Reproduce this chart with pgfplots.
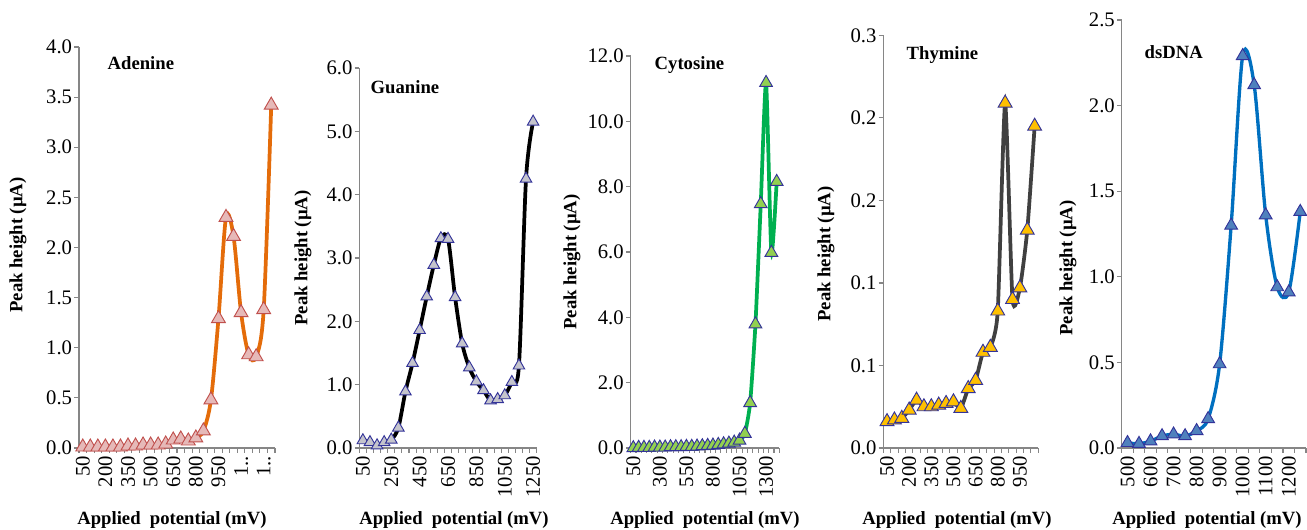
\documentclass[border=0pt]{standalone}
\usepackage{fontspec}
\setmainfont{Liberation Serif}
\usepackage{pgfplots}
\pgfplotsset{compat=1.18}

\definecolor{axgray}{HTML}{868686}
\definecolor{edgeblue}{HTML}{333399}
\definecolor{adline}{HTML}{E46C0A}
\definecolor{adfill}{HTML}{E6B9B8}
\definecolor{adedge}{HTML}{C0504D}
\definecolor{gufill}{HTML}{C4C4CC}
\definecolor{cyline}{HTML}{00B050}
\definecolor{cyfill}{HTML}{92D050}
\definecolor{thline}{HTML}{404040}
\definecolor{thfill}{HTML}{FFC000}
\definecolor{dsline}{HTML}{0070C0}
\definecolor{dsfill}{HTML}{4F81BD}

\newcommand{\ticksize}{\fontsize{15.5}{16}\selectfont}
\newcommand{\labsize}{\fontsize{14}{16}\selectfont\bfseries}

\pgfplotsset{
  panel/.style={
    scale only axis, anchor=south west,
    ymin=0,
    axis x line*=bottom, axis y line*=left,
    axis line style={draw=axgray, line width=1pt, -},
    tick align=outside, major tick length=3.5pt,
    tick style={draw=axgray, line width=0.8pt},
    xticklabels={},
    extra x tick style={major tick length=0pt},
    xticklabel style={rotate=90, anchor=east, font=\ticksize, inner xsep=6pt, inner ysep=0pt},
    yticklabel style={font=\ticksize, inner sep=1.5pt},
    clip=false,
  },
  curve/.style={smooth, line width=2.8pt, mark=triangle*,
    every mark/.append style={yshift=-1.4pt}},
}

\begin{document}
\begin{tikzpicture}
\useasboundingbox (0,0) rectangle (980.25pt,397.5pt);

% Adenine
\begin{axis}[panel, at={(59.25pt,61.5pt)}, width=147pt, height=300.75pt,
  xmin=25, xmax=1325, ymax=4,
  xtick={25,75,...,1325},
  extra x ticks={50,200,350,500,650,800,950,1100,1250},
  extra x tick labels={50,200,350,500,650,800,950,1..,1..},
  ytick={0,0.5,...,4}, yticklabels={0.0,0.5,1.0,1.5,2.0,2.5,3.0,3.5,4.0}]
\addplot[curve, color=adline, mark size=6pt,
  mark options={fill=adfill, draw=adedge, line width=0.7pt}] coordinates {
  (50,0.01) (100,0.01) (150,0.01) (200,0.01) (250,0.01) (300,0.01)
  (350,0.02) (400,0.02) (450,0.03) (500,0.03) (550,0.03) (600,0.04)
  (650,0.08) (700,0.09) (750,0.07) (800,0.10) (850,0.17) (900,0.48)
  (950,1.29) (1000,2.30) (1050,2.11) (1100,1.35) (1150,0.93) (1200,0.91)
  (1250,1.38) (1300,3.42)};
\end{axis}

% Guanine
\begin{axis}[panel, at={(269.5pt,61.5pt)}, width=133pt, height=285pt,
  xmin=25, xmax=1275, ymax=6,
  xtick={25,75,...,1275},
  extra x ticks={50,250,450,650,850,1050,1250},
  extra x tick labels={50,250,450,650,850,1050,1250},
  ytick={0,1,...,6}, yticklabels={0.0,1.0,2.0,3.0,4.0,5.0,6.0}]
\addplot[curve, color=black, mark size=5pt,
  mark options={fill=gufill, draw=edgeblue, line width=0.7pt}] coordinates {
  (50,0.12) (100,0.09) (150,0.04) (200,0.09) (250,0.13) (300,0.32)
  (350,0.89) (400,1.34) (450,1.86) (500,2.39) (550,2.89) (600,3.31)
  (650,3.30) (700,2.38) (750,1.65) (800,1.27) (850,1.05) (900,0.91)
  (950,0.75) (1000,0.77) (1050,0.83) (1100,1.04) (1150,1.30) (1200,4.25)
  (1250,5.15)};
\end{axis}

% Cytosine
\begin{axis}[panel, at={(473pt,61.5pt)}, width=111.5pt, height=294pt,
  xmin=25, xmax=1425, ymax=12,
  xtick={25,75,...,1425},
  extra x ticks={50,300,550,800,1050,1300},
  extra x tick labels={50,300,550,800,1050,1300},
  ytick={0,2,...,12}, yticklabels={0.0,2.0,4.0,6.0,8.0,10.0,12.0}]
\addplot[curve, tension=0.35, color=cyline, mark size=5.5pt,
  mark options={fill=cyfill, draw=edgeblue, line width=0.7pt}] coordinates {
  (50,0.00) (100,0.01) (150,0.01) (200,0.01) (250,0.02) (300,0.02)
  (350,0.02) (400,0.03) (450,0.03) (500,0.03) (550,0.04) (600,0.04)
  (650,0.05) (700,0.06) (750,0.07) (800,0.08) (850,0.10) (900,0.12)
  (950,0.14) (1000,0.17) (1050,0.23) (1100,0.44) (1150,1.38) (1200,3.79)
  (1250,7.47) (1300,11.18) (1350,5.98) (1400,8.15)};
\end{axis}

% Thymine
\begin{axis}[panel, at={(662.5pt,61.5pt)}, width=116.25pt, height=309.4pt,
  xmin=25, xmax=1075, ymax=0.25,
  xtick={25,75,...,1075},
  extra x ticks={50,200,350,500,650,800,950},
  extra x tick labels={50,200,350,500,650,800,950},
  ytick={0,0.05,0.1,0.15,0.2,0.25}, yticklabels={0.0,0.1,0.1,0.2,0.2,0.3}]
\addplot[curve, tension=0.35, color=thline, mark size=6pt,
  mark options={fill=thfill, draw=edgeblue, line width=0.7pt}] coordinates {
  (50,0.016) (100,0.017) (150,0.018) (200,0.023) (250,0.029) (300,0.025)
  (350,0.025) (400,0.026) (450,0.027) (500,0.028) (550,0.024) (600,0.036)
  (650,0.041) (700,0.058) (750,0.061) (800,0.083) (850,0.209) (900,0.090)
  (950,0.097) (1000,0.132) (1050,0.195)};
\end{axis}

% dsDNA
\begin{axis}[panel, at={(841.3pt,61.5pt)}, width=138.2pt, height=321pt,
  xmin=475, xmax=1275, ymax=2.5,
  xtick={475,525,...,1275},
  extra x ticks={500,600,...,1200},
  extra x tick labels={500,600,700,800,900,1000,1100,1200},
  ytick={0,0.5,...,2.5}, yticklabels={0.0,0.5,1.0,1.5,2.0,2.5}]
\addplot[curve, color=dsline, line width=2.5pt, mark size=5.5pt,
  mark options={fill=dsfill, draw=edgeblue, line width=0.7pt}] coordinates {
  (500,0.03) (550,0.025) (600,0.04) (650,0.07) (700,0.08) (750,0.07)
  (800,0.10) (850,0.17) (900,0.49) (950,1.30) (1000,2.29) (1050,2.12)
  (1100,1.36) (1150,0.94) (1200,0.91) (1250,1.38)};
\end{axis}

% titles
\node[anchor=west, font=\labsize] at (77.25pt,350.25pt) {Adenine};
\node[anchor=west, font=\labsize] at (274.5pt,332.25pt) {Guanine};
\node[anchor=west, font=\labsize] at (487.5pt,348.75pt) {Cytosine};
\node[anchor=west, font=\labsize] at (676.5pt,356.25pt) {Thymine};
\node[anchor=west, font=\labsize] at (855pt,358.5pt) {dsDNA};

% y labels
\node[rotate=90, font=\labsize] at (13.5pt,213.75pt) {Peak height (µA)};
\node[rotate=90, font=\labsize] at (227.25pt,204pt) {Peak height (µA)};
\node[rotate=90, font=\labsize] at (429pt,201pt) {Peak height (µA)};
\node[rotate=90, font=\labsize] at (619.5pt,207pt) {Peak height (µA)};
\node[rotate=90, font=\labsize] at (801pt,196.5pt) {Peak height (µA)};

% x labels
\node[anchor=base, font=\labsize] at (129pt,3.75pt) {Applied~~potential (mV)};
\node[anchor=base, font=\labsize] at (340.5pt,3.75pt) {Applied~~potential (mV)};
\node[anchor=base, font=\labsize] at (528.75pt,3.75pt) {Applied~~potential (mV)};
\node[anchor=base, font=\labsize] at (717.75pt,3.75pt) {Applied~~potential (mV)};
\node[anchor=base, font=\labsize] at (905.25pt,3.75pt) {Applied~~potential (mV)};
\end{tikzpicture}
\end{document}
